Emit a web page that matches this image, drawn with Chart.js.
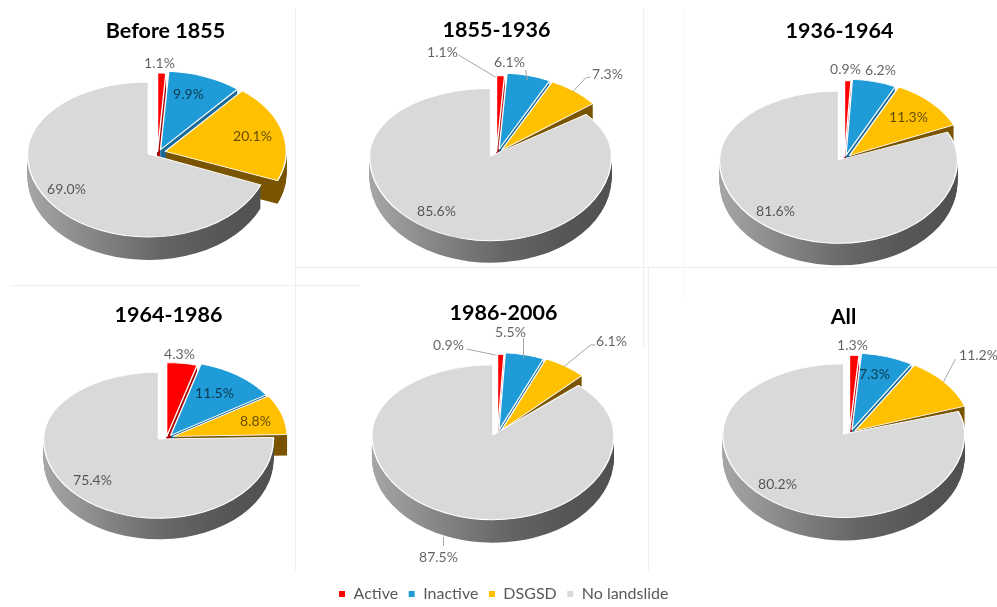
<!DOCTYPE html>
<html>
<head>
<meta charset="utf-8">
<title>Landslide pies</title>
<script src="https://cdn.jsdelivr.net/npm/chart.js@4"></script>
<style>
html,body{margin:0;padding:0;background:#fff;}
#page{position:relative;width:997px;height:607px;overflow:hidden;background:#fff;}
#page canvas{position:absolute;top:0;}
.rule{position:absolute;background:#eeeeee;}
</style>
</head>
<body>
<div id="page"></div>
<script>
// ---- data ----
const categories = ['Active', 'Inactive', 'DSGSD', 'No landslide'];
const titles = ['Before 1855', '1855-1936', '1936-1964', '1964-1986', '1986-2006', 'All'];
const before1855 = [1.1, 9.9, 20.1, 69.0];
const y1855to1936 = [1.1, 6.1, 7.3, 85.6];
const y1936to1964 = [0.9, 6.2, 11.3, 81.6];
const y1964to1986 = [4.3, 11.5, 8.8, 75.4];
const y1986to2006 = [0.9, 5.5, 6.1, 87.5];
const allPeriods = [1.3, 7.3, 11.2, 80.2];
const seriesValues = [before1855, y1855to1936, y1936to1964, y1964to1986, y1986to2006, allPeriods];

// ---- styles ----
const fillColors = ['#FF0000', '#1F9BD7', '#FFC000', '#D9D9D9'];
const wallColors = ['#A80000', '#1A6A96', '#7A5500', '#777777'];
const FONT = 'Lato, "Open Sans", sans-serif';
const LABEL_COLOR = 'rgba(0,0,0,0.62)';

// ---- layout (page pixels), one entry per pie ----
const layouts = [
  {title:[165,31],  c:[157,152], r:121, wr:121, k:.65, up:.595, down:.686, depth:23, ex:[1,8,8,11],
   lab:[[159,63],[188,94],[252,136],[66,189]], lead:[]},
  {title:[496,30],  c:[496,152], r:121, wr:116, k:.655, up:.56, down:.70, depth:22, ex:[1,10,8,13.6],
   lab:[[442,52],[509,62],[607,74],[436,211]],
   lead:[[[458,55],[495,77]],[[525,70],[527,80]],[[590,77],[585,78],[572,92]]]},
  {title:[839,31],  c:[844,157], r:119, wr:114, k:.667, up:.58, down:.70, depth:22, ex:[1,6,7,11],
   lab:[[845,69],[880,70],[908,117],[775,211]], lead:[]},
  {title:[168,315], c:[166,437], r:115, wr:114, k:.65, up:.58, down:.69, depth:21, ex:[1,7,7,11.5],
   lab:[[179,354],[214,393],[255,421],[92,480]], lead:[]},
  {title:[503,313], c:[497,432], r:121, wr:114, k:.68, up:.58, down:.70, depth:23, ex:[.5,6,7,12],
   lab:[[448,345],[510,332],[611,341],[438,557]],
   lead:[[[466,349],[495,355]],[[523,338],[523,358]],[[595,345],[590,345],[563,367]],[[443,537],[443,546]]]},
  {title:[843,317], c:[849,432], r:121, wr:116, k:.66, up:.58, down:.69, depth:23, ex:[.5,8,7,10],
   lab:[[852,345],[874,374],[978,355],[777,484]],
   lead:[[[955,359],[943,382]]]}
];
const rules = [
  [295,8,1,562],[295,267,702,1],[10,285,350,1],[643,8,1,340],[648,267,1,303],[684,8,1,292]
];

const page = document.getElementById('page');
rules.forEach(([x,y,w,h]) => {
  const d = document.createElement('div');
  d.className = 'rule';
  d.style.cssText = `left:${x}px;top:${y}px;width:${w}px;height:${h}px;` + (x === 684 ? 'background:#f8f8f8' : '');
  page.appendChild(d);
});

// Draw one slice through the library's own arc element, under a tilt transform
function drawSlice(ctx, arc, fill, stroke, px, py, sx, up, down, drop) {
  const ghost = Object.create(arc);
  ghost.options = {backgroundColor: fill, borderColor: stroke, borderWidth: stroke ? 1.4 : 0,
    borderAlign: 'center', borderDash: [], borderDashOffset: 0, borderJoinStyle: 'round',
    borderRadius: 0, circular: true, offset: 0, spacing: 0};
  const once = (sy, clipTop, clipH) => {
    ctx.save();
    if (clipH) { ctx.beginPath(); ctx.rect(-5000, clipTop, 20000, clipH); ctx.clip(); }
    ctx.translate(px, py + drop);
    ctx.scale(sx, sy);
    ctx.translate(-arc.x, -arc.y);
    ghost.draw(ctx);
    ctx.restore();
  };
  if (up === down) { once(up); return; }
  const seam = Math.round(py + drop);
  once(up, seam - 1000, 1000.5);
  once(down, seam, 1000);
}

const tiltPlugin = {
  id: 'tilt',
  beforeDatasetDraw(chart, args) {
    const L = chart.options.plugins.tilt.layout;
    const left = chart.options.plugins.tilt.left;
    const ctx = chart.ctx;
    const arcs = args.meta.data;
    ctx.save();
    ctx.translate(-left, 0);
    const place = arcs.map((arc, i) => {
      const mid = (arc.startAngle + arc.endAngle) / 2;
      return [L.c[0] + Math.cos(mid) * L.ex[i], L.c[1] + Math.sin(mid) * L.ex[i] * 0.3];
    });
    const wedgeS = L.wr / L.r;
    // walls of the pulled-out wedges, seen through the gaps
    [0, 1, 2].forEach(i => {
      for (let d = L.depth; d >= 1; d--) {
        drawSlice(ctx, arcs[i], wallColors[i], null, place[i][0], place[i][1], wedgeS, L.k * wedgeS, L.k * wedgeS, d);
      }
    });
    // wall of the big slice: light at left, dark at right
    const a = arcs[3];
    const g = ctx.createLinearGradient(a.x - L.r, 0, a.x + L.r, 0);
    g.addColorStop(0, '#A6A6A6'); g.addColorStop(.28, '#858585');
    g.addColorStop(.55, '#666666'); g.addColorStop(.8, '#565656'); g.addColorStop(1, '#505050');
    const pg = [place[3][0], Math.round(place[3][1])];
    for (let d = L.depth; d >= 1; d--) {
      drawSlice(ctx, a, g, null, pg[0], pg[1], 1, L.up, L.down, d);
    }
    // top faces
    drawSlice(ctx, a, fillColors[3], '#FFFFFF', pg[0], pg[1], 1, L.up, L.down, 0);
    [0, 1, 2].forEach(i => {
      drawSlice(ctx, arcs[i], fillColors[i], '#FFFFFF', place[i][0], place[i][1], wedgeS, L.k * wedgeS, L.k * wedgeS, 0);
    });
    ctx.restore();
    return false;
  },
  afterDraw(chart) {
    const {layout: L, left, values} = chart.options.plugins.tilt;
    const ctx = chart.ctx;
    ctx.save();
    ctx.translate(-left, 0);
    ctx.strokeStyle = '#A6A6A6';
    ctx.lineWidth = 1;
    L.lead.forEach(pts => {
      ctx.beginPath();
      pts.forEach((p, i) => i ? ctx.lineTo(p[0], p[1]) : ctx.moveTo(p[0], p[1]));
      ctx.stroke();
    });
    ctx.font = '14px ' + FONT;
    ctx.fillStyle = LABEL_COLOR;
    ctx.textAlign = 'center';
    ctx.textBaseline = 'middle';
    values.forEach((v, i) => ctx.fillText(v.toFixed(1) + '%', L.lab[i][0], L.lab[i][1]));
    ctx.restore();
  }
};

titles.forEach((title, idx) => {
  const L = layouts[idx];
  const left = L.title[0] - 498.5;
  const cv = document.createElement('canvas');
  cv.width = 997; cv.height = 612;
  cv.style.left = left + 'px';
  cv.style.width = '997px'; cv.style.height = '612px';
  page.appendChild(cv);
  const showLegend = idx === 4;
  new Chart(cv.getContext('2d'), {
    type: 'pie',
    data: {labels: categories, datasets: [{data: seriesValues[idx], backgroundColor: fillColors, borderColor: '#fff', borderWidth: 1}]},
    plugins: [tiltPlugin],
    options: {
      responsive: false, animation: false, events: [], radius: L.r,
      layout: {padding: 0},
      plugins: {
        tooltip: {enabled: false},
        title: {display: true, text: title, color: '#000000',
          font: {family: FONT, size: 21.5, weight: 'bold', lineHeight: 1.2},
          padding: {top: L.title[1] - 12.9, bottom: 0}},
        legend: {display: showLegend, position: 'bottom',
          labels: {boxWidth: 7, boxHeight: 7, padding: 10, color: '#595959', font: {family: FONT, size: 16}}},
        tilt: {layout: L, left: left, values: seriesValues[idx]}
      }
    }
  });
});
</script>
</body>
</html>
